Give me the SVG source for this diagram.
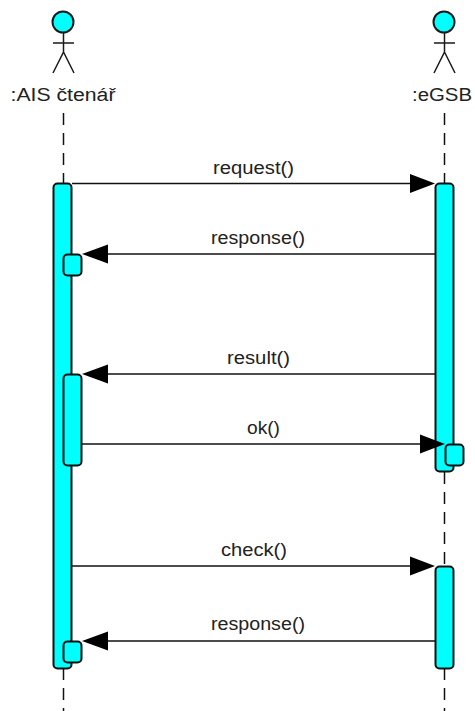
<svg xmlns="http://www.w3.org/2000/svg" width="475" height="711" viewBox="0 0 475 711">
<style>
.head{fill:#00ffff;stroke:#1a1a1a;stroke-width:2}
.limb{fill:none;stroke:#1a1a1a;stroke-width:1.500}
.life{fill:none;stroke:#111;stroke-width:1.500;stroke-dasharray:12 8}
.act{fill:#00ffff;stroke:#111;stroke-width:2}
.msg{stroke:#111;stroke-width:1.700;fill:none}
.tip{fill:#000;stroke:none}
text{font-family:"Liberation Sans",Arial,sans-serif;font-size:18px;fill:#222;text-anchor:middle}
</style>
<rect width="475" height="711" fill="#fff"/>
<g id="lifelines">
<path class="life" d="M63.500 113V183M63.500 668V711"/>
<path class="life" d="M444.500 113V183M444.500 472V566M444.500 668V711"/>
</g>
<g id="actor-ais">
<circle class="head" cx="63" cy="22" r="10.500"/>
<path class="limb" d="M53 43H74M63.500 33V52L53 73M63.500 52L74 73"/>
<text x="63" y="101" textLength="105" lengthAdjust="spacingAndGlyphs">:AIS čtenář</text>
</g>
<g id="actor-egsb">
<circle class="head" cx="444" cy="22" r="10.500"/>
<path class="limb" d="M434 43H455M444.500 33V52L434 73M444.500 52L455 73"/>
<text x="442" y="101" textLength="60" lengthAdjust="spacingAndGlyphs">:eGSB</text>
</g>
<g id="activation-left">
<rect class="act" x="53.500" y="183.500" width="18" height="485" rx="4"/>
<rect class="act" x="63.500" y="254.500" width="18" height="21" rx="4"/>
<rect class="act" x="63.500" y="374.500" width="18" height="91" rx="4"/>
<rect class="act" x="63.500" y="641.500" width="18" height="21" rx="4"/>
</g>
<g id="activation-right">
<rect class="act" x="435.500" y="183.500" width="18" height="288" rx="4"/>
<rect class="act" x="445.500" y="444.500" width="18" height="21" rx="4"/>
<rect class="act" x="435.500" y="566.500" width="18" height="102" rx="4"/>
</g>
<g id="connectors">
<path class="msg" d="M72 183.500H412"/><path class="tip" d="M435 183.500L410 174V193Z"/>
<path class="msg" d="M435 254H106"/><path class="tip" d="M82 254L108 244.500V263.500Z"/>
<path class="msg" d="M435 374H106"/><path class="tip" d="M82 374L108 364.500V383.500Z"/>
<path class="msg" d="M82 444H422"/><path class="tip" d="M445 444L420 434.500V453.500Z"/>
<path class="msg" d="M72 566H412"/><path class="tip" d="M435 566L410 556.500V575.500Z"/>
<path class="msg" d="M435 641H106"/><path class="tip" d="M82 641L108 631.500V650.500Z"/>
</g>
<g id="labels">
<text x="253.500" y="174" textLength="81" lengthAdjust="spacingAndGlyphs">request()</text>
<text x="258" y="244" textLength="94" lengthAdjust="spacingAndGlyphs">response()</text>
<text x="258.500" y="364" textLength="63" lengthAdjust="spacingAndGlyphs">result()</text>
<text x="263.500" y="434" textLength="33" lengthAdjust="spacingAndGlyphs">ok()</text>
<text x="254" y="556" textLength="66" lengthAdjust="spacingAndGlyphs">check()</text>
<text x="258" y="630" textLength="94" lengthAdjust="spacingAndGlyphs">response()</text>
</g>
</svg>
